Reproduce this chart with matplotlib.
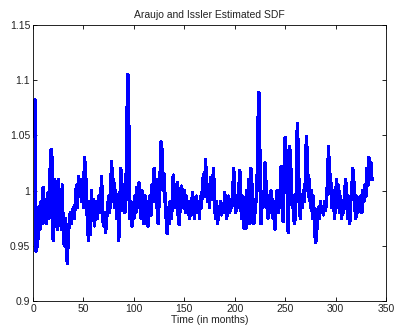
"""
Araujo and Issler estimated SDF, monthly series (MATLAB-style figure)
"""
import matplotlib
matplotlib.use('Agg')
import matplotlib.pyplot as plt
import numpy as np

# estimated SDF values, one row per 12 months
sdf = [
    1.049, 1.082, 0.945, 0.950, 0.958, 0.985, 0.965, 0.990, 0.970, 1.003, 0.978, 0.992,
    0.970, 0.985, 0.998, 0.975, 1.020, 1.037, 1.028, 0.955, 1.010, 0.970, 1.008, 0.965,
    1.010, 0.975, 0.995, 0.965, 1.005, 0.960, 0.950, 0.975, 0.945, 0.934, 0.960, 0.972,
    0.980, 0.970, 0.978, 0.985, 0.975, 0.990, 1.005, 0.985, 1.013, 0.995, 1.010, 0.990,
    1.008, 0.985, 1.030, 1.020, 0.995, 0.970, 0.955, 0.990, 0.960, 1.000, 0.975, 0.992,
    0.968, 0.985, 0.990, 0.975, 0.995, 0.980, 0.988, 1.013, 0.975, 0.968, 0.980, 0.962,
    0.975, 0.985, 0.995, 0.980, 1.005, 1.026, 0.990, 1.010, 0.985, 1.000, 0.975, 0.990,
    0.955, 0.985, 1.020, 0.998, 0.982, 1.005, 0.980, 0.990, 1.060, 1.105, 1.058, 0.975,
    0.990, 0.968, 0.985, 0.975, 0.995, 0.980, 1.003, 0.985, 1.007, 0.990, 0.975, 1.000,
    0.985, 0.970, 0.995, 0.980, 0.990, 0.968, 0.985, 0.995, 0.978, 1.005, 0.990, 1.020,
    0.998, 1.010, 0.985, 0.970, 0.990, 1.015, 1.044, 1.035, 1.000, 1.015, 0.990, 0.975,
    0.961, 0.985, 0.970, 0.990, 0.975, 0.985, 1.014, 0.990, 0.985, 0.995, 1.007, 0.975,
    0.969, 0.990, 1.004, 1.000, 0.985, 1.000, 0.980, 0.995, 0.985, 0.990, 0.975, 0.985,
    0.978, 0.998, 0.990, 0.975, 0.985, 0.995, 0.980, 0.990, 0.975, 0.995, 0.985, 1.005,
    1.015, 0.995, 1.028, 1.010, 0.990, 1.005, 0.985, 1.012, 0.992, 1.005, 1.020, 0.985,
    0.975, 0.990, 0.970, 0.985, 0.980, 0.990, 0.978, 0.985, 0.980, 0.998, 0.990, 0.975,
    0.985, 0.995, 0.980, 0.990, 0.985, 0.998, 1.020, 0.990, 0.980, 0.995, 0.985, 1.000,
    1.018, 0.985, 0.975, 0.995, 0.966, 0.980, 0.966, 1.000, 0.975, 1.010, 0.970, 1.020,
    1.005, 0.985, 0.970, 0.980, 0.990, 1.000, 1.060, 1.089, 1.030, 0.970, 0.995, 0.985,
    0.995, 1.025, 1.005, 0.985, 0.975, 0.995, 0.980, 1.000, 0.990, 0.975, 0.985, 0.965,
    0.990, 1.000, 0.980, 0.995, 0.985, 1.022, 0.995, 0.972, 1.010, 1.048, 1.030, 1.000,
    0.962, 1.040, 1.035, 1.010, 0.985, 0.995, 0.970, 0.975, 1.000, 1.061, 1.035, 0.990,
    0.975, 0.995, 0.985, 1.000, 0.990, 1.010, 1.049, 1.030, 0.995, 1.010, 0.985, 1.000,
    0.975, 0.995, 0.970, 0.953, 0.955, 0.980, 0.985, 0.975, 0.990, 0.980, 0.985, 0.978,
    0.990, 0.982, 0.990, 1.010, 1.040, 1.005, 1.015, 0.985, 1.000, 0.990, 0.975, 0.995,
    1.010, 0.985, 1.005, 0.980, 0.995, 0.975, 0.990, 0.980, 1.000, 1.010, 0.990, 0.975,
    0.995, 0.970, 0.990, 1.000, 1.020, 1.010, 0.985, 0.975, 0.995, 0.980, 0.990, 0.985,
    0.995, 0.980, 1.000, 0.990, 1.005, 0.995, 1.020, 1.005, 1.030, 1.015, 1.025, 1.010,
]
months = np.arange(1, len(sdf) + 1)

x_ticks = [0, 50, 100, 150, 200, 250, 300, 350]
y_ticks = [0.9, 0.95, 1.0, 1.05, 1.1, 1.15]
y_labels = ['0.9', '0.95', '1', '1.05', '1.1', '1.15']

plt.rcParams['font.family'] = ['Liberation Sans', 'DejaVu Sans']
fig = plt.figure(figsize=(3.94, 3.30), dpi=100)
ax = fig.add_axes([0.0838, 0.0879, 0.896, 0.8364])

# MATLAB-ish look: thick, non-antialiased blue line
ax.plot(months, sdf, color=(0, 0, 1), lw=1.7, antialiased=False)

ax.set_xlim(0, 350)
ax.set_ylim(0.9, 1.15)
ax.set_xticks(x_ticks)
ax.set_yticks(y_ticks)
ax.set_yticklabels(y_labels)
ax.tick_params(direction='in', top=True, right=True, length=3, width=0.6,
               labelsize=7.5, pad=2, labelcolor='#222222')
for s in ax.spines.values():
    s.set_linewidth(0.6)

ax.set_title('Araujo and Issler Estimated SDF', fontsize=7.5, pad=5, color='#222222')
ax.set_xlabel('Time (in months)', fontsize=7.5, labelpad=1, color='#222222')

fig.savefig('out.png', dpi=100)
